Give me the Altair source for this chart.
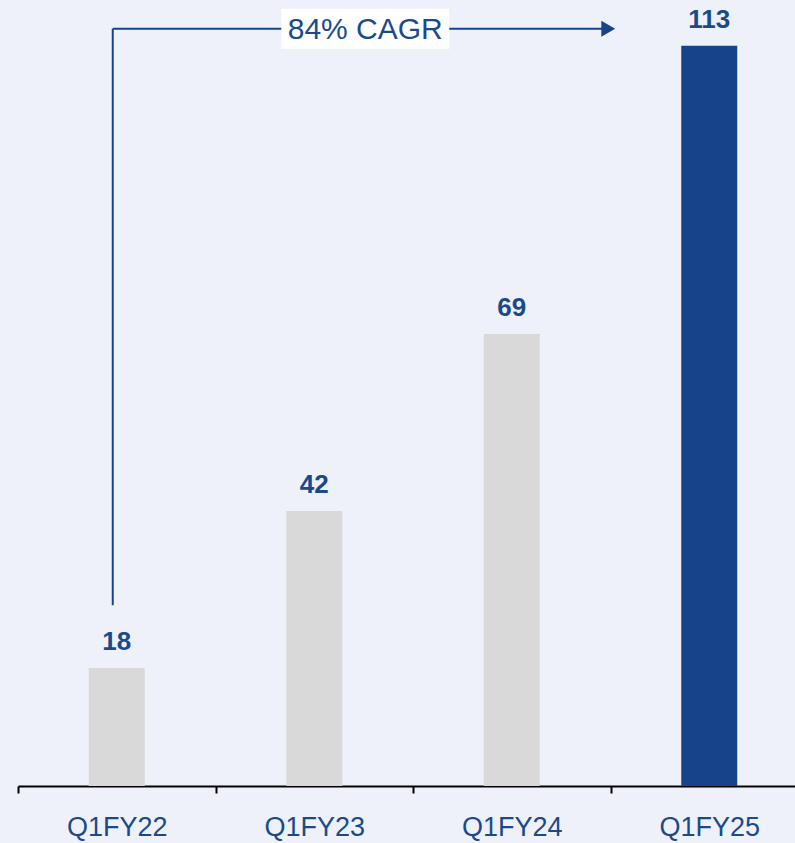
import altair as alt
import pandas as pd

categories = ["Q1FY22", "Q1FY23", "Q1FY24", "Q1FY25"]
values = [18, 42, 69, 113]
highlight = [False, False, False, True]

cagr_label = "84% CAGR"
arrow_level = 115.6      # y value (data units) of the horizontal arrow
arrow_start = 27.6       # y value where the vertical leg starts
arrow_from = "Q1FY22"
arrow_to = "Q1FY25"
label_at = "Q1FY23"

BLUE = "#17438b"
TEXT_BLUE = "#1b4a8c"
GRAY = "#d9d9d9"
BG = "#eef1f9"

df = pd.DataFrame({"cat": categories, "val": values, "hi": highlight})

xscale = alt.Scale(domain=categories, range=[0, 790], paddingInner=0, paddingOuter=0)
yscale = alt.Scale(domain=[0, 120], range=[786, 0], nice=False, zero=True)

x_enc = alt.X(
    "cat:N",
    scale=xscale,
    sort=categories,
    axis=alt.Axis(
        title=None,
        labelAngle=0,
        labelFont="Liberation Sans",
        labelFontSize=27,
        labelColor=TEXT_BLUE,
        labelPadding=21,
        labelBaseline="top",
        domainColor="#000000",
        domainWidth=2,
        tickColor="#000000",
        tickWidth=2,
        tickSize=7,
        tickBand="extent",
        grid=False,
    ),
)
y_enc = alt.Y("val:Q", scale=yscale, axis=None)

bars = alt.Chart(df).mark_bar(width=56).encode(
    x=x_enc,
    y=y_enc,
    color=alt.Color("hi:N", scale=alt.Scale(domain=[False, True], range=[GRAY, BLUE]), legend=None),
)

labels = alt.Chart(df).mark_text(
    font="Liberation Sans", fontSize=26, fontWeight="bold", color=TEXT_BLUE,
    baseline="alphabetic", dy=-18,
).encode(x=alt.X("cat:N", scale=xscale, sort=categories), y=y_enc, text="val:Q")

ann = pd.DataFrame({
    "c0": [arrow_from], "c1": [arrow_to], "cl": [label_at],
    "y0": [arrow_start], "y1": [arrow_level], "txt": [cagr_label],
})
base = alt.Chart(ann)

vline = base.mark_rule(color=BLUE, strokeWidth=2, xOffset=-4).encode(
    x=alt.X("c0:N", scale=xscale, sort=categories),
    y=alt.Y("y0:Q", scale=yscale), y2="y1:Q",
)
hline = base.mark_rule(color=BLUE, strokeWidth=2, xOffset=-4, x2Offset=-106).encode(
    x=alt.X("c0:N", scale=xscale, sort=categories),
    x2="c1:N",
    y=alt.Y("y1:Q", scale=yscale),
)
head = base.mark_point(shape="triangle-right", filled=True, size=256, color=BLUE, opacity=1, xOffset=-101).encode(
    x=alt.X("c1:N", scale=xscale, sort=categories),
    y=alt.Y("y1:Q", scale=yscale),
)
box = base.mark_point(
    shape="M-1,-0.238L1,-0.238L1,0.238L-1,0.238Z", filled=True, size=28224,
    color="#ffffff", opacity=1, xOffset=51, strokeWidth=0,
).encode(
    x=alt.X("cl:N", scale=xscale, sort=categories),
    y=alt.Y("y1:Q", scale=yscale),
)
txt = base.mark_text(
    font="Liberation Sans", fontSize=30, color=TEXT_BLUE, xOffset=51, baseline="middle", dy=1,
).encode(
    x=alt.X("cl:N", scale=xscale, sort=categories),
    y=alt.Y("y1:Q", scale=yscale),
    text="txt:N",
)

chart = alt.layer(bars, labels, vline, hline, head, box, txt).properties(
    width=777, height=786,
    autosize=alt.AutoSizeParams(type="none"),
    padding={"left": 18, "top": 0, "right": 0, "bottom": 57},
    background=BG,
).configure_view(stroke=None)

chart.save("out.html", embed_options={"renderer": "svg", "actions": False})
